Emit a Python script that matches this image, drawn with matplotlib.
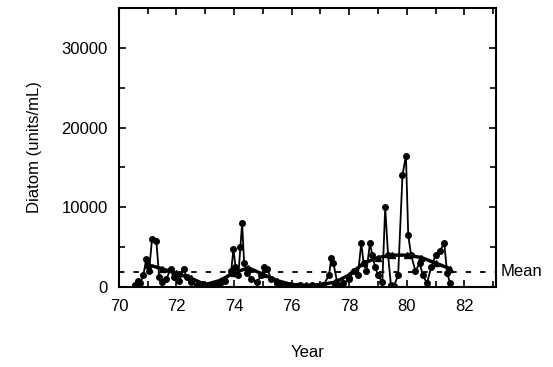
import matplotlib.pyplot as plt
import matplotlib
from matplotlib.ticker import MultipleLocator

matplotlib.rcParams.update({'font.size': 12, 'font.family': 'Liberation Sans'})

# raw diatom samples (year, units/mL)
years = [70.55, 70.65, 70.75, 70.85, 70.95, 71.05, 71.15, 71.3, 71.4, 71.5,
         71.65, 71.8, 71.9, 72.0, 72.1, 72.25, 72.35, 72.5, 72.7, 72.9,
         73.1, 73.3, 73.5, 73.7, 73.9, 73.98, 74.05, 74.15, 74.22, 74.28,
         74.35, 74.45, 74.6, 74.8, 74.95, 75.05, 75.15, 75.3, 75.5, 75.7,
         75.9, 76.1, 76.3, 76.5, 76.7, 76.9, 77.1, 77.3, 77.38, 77.45,
         77.6, 77.8, 78.0, 78.15, 78.3, 78.42, 78.5, 78.6, 78.72, 78.8,
         78.9, 79.0, 79.15, 79.25, 79.35, 79.45, 79.55, 79.7, 79.85, 79.97,
         80.05, 80.15, 80.3, 80.45, 80.55, 80.7, 80.85, 81.0, 81.15, 81.3,
         81.4, 81.5]
diatom = [300, 800, 500, 1500, 3500, 2000, 6000, 5800, 1200, 600,
          1000, 2300, 1200, 1500, 800, 2300, 1200, 600, 200, 400,
          300, 200, 500, 800, 2000, 4800, 2500, 1500, 5000, 8000,
          3000, 1800, 1000, 600, 1500, 2500, 2200, 1000, 500, 200,
          300, 100, 200, 100, 300, 100, 200, 1500, 3700, 3000,
          300, 500, 1000, 2000, 1500, 5500, 3000, 2000, 5500, 4000,
          2500, 1500, 600, 10000, 4000, 200, 100, 1500, 14000, 16500,
          6500, 4000, 2000, 3000, 1500, 500, 2500, 4000, 4500, 5500,
          1800, 500]

# smoothed trend (thick line with triangles)
trend_years = [71.0, 71.5, 72.0, 72.5, 73.0, 73.5, 74.0, 74.5, 75.0, 75.5,
               76.0, 76.5, 77.0, 77.5, 78.0, 78.5, 79.0, 79.5, 80.0, 80.5,
               81.0, 81.5]
trend = [2800, 2300, 1700, 1100, 300, 800, 1800, 2400, 1600, 800,
         300, 200, 300, 600, 1500, 3000, 3700, 4000, 4000, 3700,
         3000, 2300]

mean_value = 1900

fig = plt.figure(figsize=(5.53, 3.67), dpi=100)
ax = fig.add_axes([0.215, 0.218, 0.682, 0.76])

ax.plot(years, diatom, color='black', lw=1.3, marker='o', ms=4, zorder=3)
ax.plot(trend_years, trend, color='black', lw=2.5, marker='^', ms=5, zorder=4)
ax.axhline(mean_value, color='black', ls=(0, (3, 5)), lw=1.3)
ax.text(83.25, mean_value, 'Mean', va='center', ha='left')

ax.set_xlim(70, 83.1)
ax.set_ylim(0, 35000)
ax.set_xticks([70, 72, 74, 76, 78, 80, 82])
ax.set_yticks([0, 10000, 20000, 30000])
ax.xaxis.set_minor_locator(MultipleLocator(1))
ax.yaxis.set_minor_locator(MultipleLocator(5000))
ax.tick_params(direction='in', top=True, right=True, which='both', width=1.2)
ax.tick_params(which='major', length=5)
ax.tick_params(which='minor', length=4)
ax.tick_params(axis='x', pad=9)
ax.tick_params(axis='y', pad=8)
for s in ax.spines.values():
    s.set_linewidth(1.5)

ax.set_xlabel('Year', labelpad=22)
ax.set_ylabel('Diatom (units/mL)', labelpad=14)

fig.savefig('out.png', dpi=100)
